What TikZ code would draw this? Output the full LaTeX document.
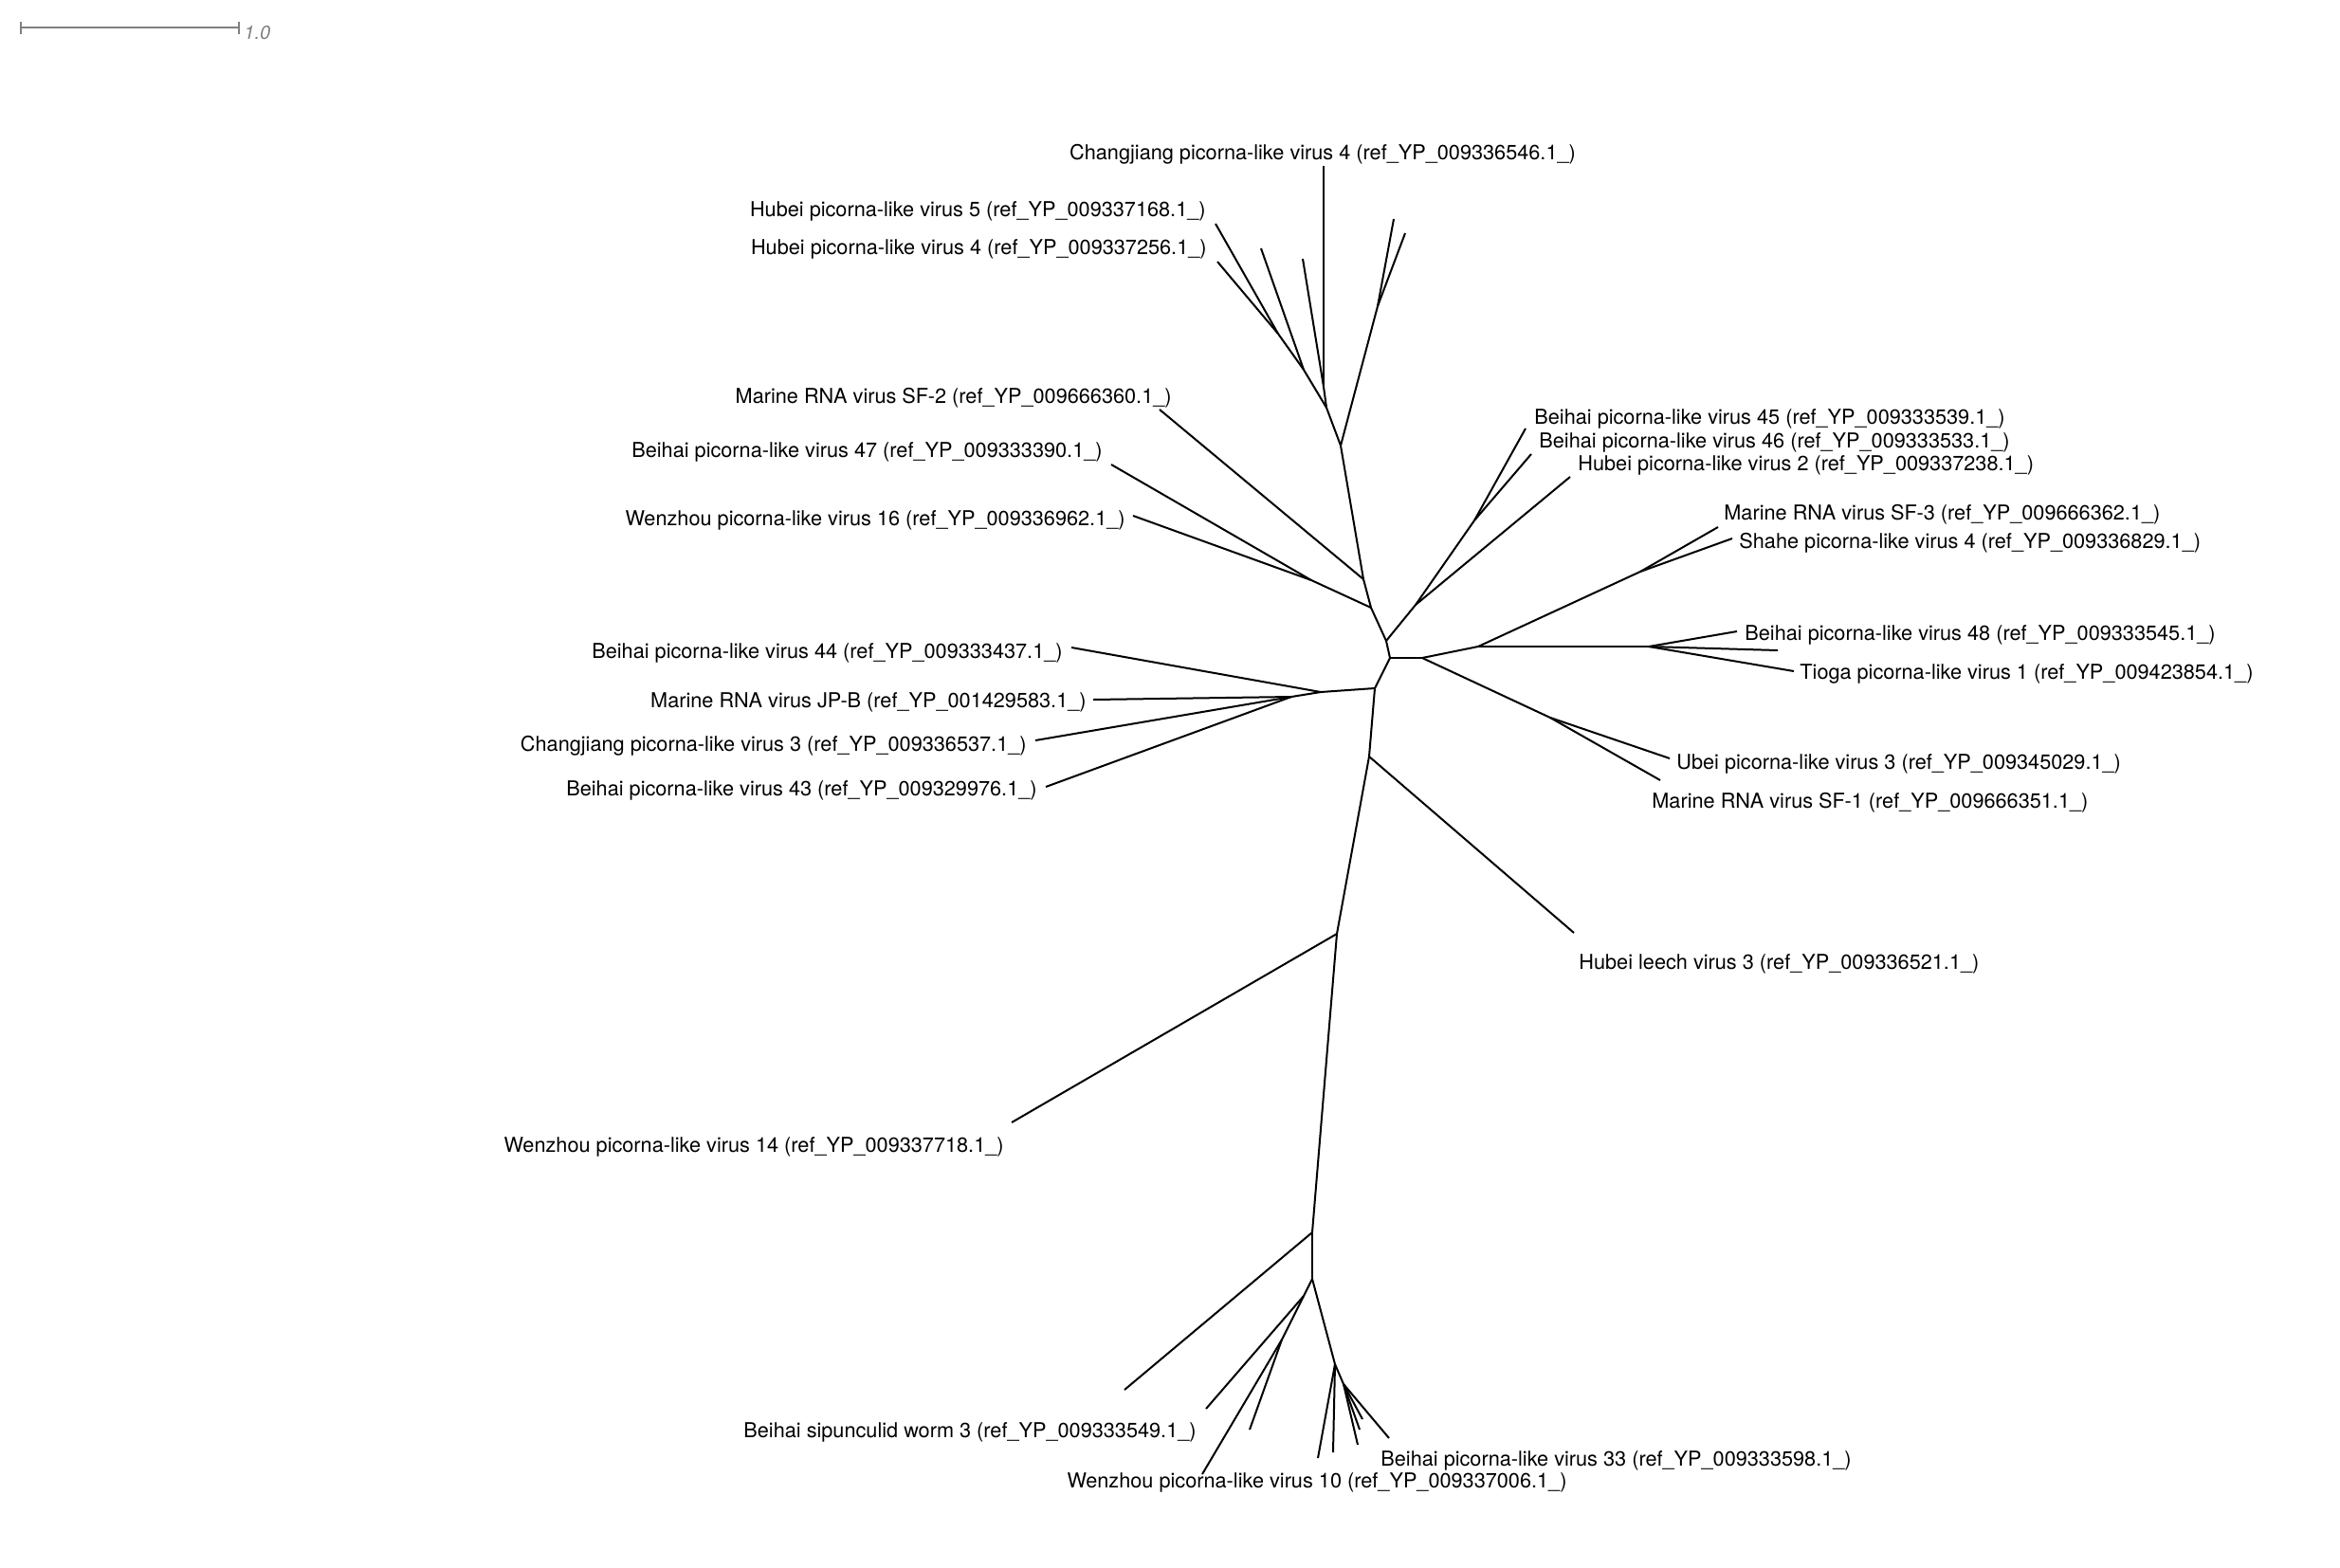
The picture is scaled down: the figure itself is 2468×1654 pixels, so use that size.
\documentclass[tikz,border=0pt]{standalone}
\usepackage{fontspec}
\setmainfont{TeX Gyre Heros}
\begin{document}
\begin{tikzpicture}[x=0.5pt,y=-0.5pt,
  br/.style={line width=1pt, line join=round},
  lab/.style={font=\fontsize{10.85}{13}\selectfont, inner sep=0pt, yshift=-1.5pt},
  scalebar/.style={line width=1pt, color=scalegray}]
\definecolor{scalegray}{HTML}{808080}
\useasboundingbox (0,0) rectangle (2468,1654);
% scale bar
\coordinate (s1) at (22,29); \coordinate (s2) at (252,29);
\coordinate (s1a) at (22,23); \coordinate (s1b) at (22,36);
\coordinate (s2a) at (252,23); \coordinate (s2b) at (252,36);
\draw[scalebar] (s1)--(s2); \draw[scalebar] (s1a)--(s1b); \draw[scalebar] (s2a)--(s2b);
\node[anchor=west, inner sep=0pt, font=\fontsize{10}{12}\selectfont\itshape, text=scalegray] (scl) at (257,35) {1.0};
% internal nodes
\coordinate (A) at (1466,694);
\coordinate (B) at (1462,676);
\coordinate (C) at (1446,641);
\coordinate (C0) at (1438,611);
\coordinate (N1) at (1414,470);
\coordinate (Q) at (1399,430);
\coordinate (P) at (1396,408);
\coordinate (L1) at (1375,390);
\coordinate (L2) at (1348,352);
\coordinate (R1) at (1453,323);
\coordinate (W) at (1383,612);
\coordinate (D) at (1450,726);
\coordinate (D2) at (1393,730);
\coordinate (D3) at (1362,735);
\coordinate (F) at (1444,798);
\coordinate (G) at (1410,985);
\coordinate (H) at (1384,1300);
\coordinate (I) at (1384,1349);
\coordinate (I1) at (1375,1367);
\coordinate (I2) at (1352,1413);
\coordinate (J) at (1408,1439);
\coordinate (K) at (1417,1460);
\coordinate (E) at (1500,694);
\coordinate (E2) at (1559,682);
\coordinate (U) at (1730,603);
\coordinate (E3) at (1739,682);
\coordinate (S) at (1635,757);
\coordinate (B1) at (1493,638);
\coordinate (B2) at (1555,549);
% tips
\coordinate (tCj4) at (1396,175);
\coordinate (tA) at (1374,273);
\coordinate (tB) at (1330,262);
\coordinate (tH5) at (1282,236);
\coordinate (tH4) at (1284,276);
\coordinate (tR1) at (1470,231);
\coordinate (tR2) at (1482,246);
\coordinate (tSF2) at (1223,432);
\coordinate (tB47) at (1172,490);
\coordinate (tW16) at (1195,544);
\coordinate (tB44) at (1130,683);
\coordinate (tJPB) at (1153,738);
\coordinate (tCj3) at (1092,781);
\coordinate (tB43) at (1103,830);
\coordinate (tW14) at (1067,1184);
\coordinate (tHu) at (1186,1466);
\coordinate (tA1) at (1272,1486);
\coordinate (tA2) at (1318,1508);
\coordinate (tA3) at (1268,1555);
\coordinate (tJ1) at (1390,1538);
\coordinate (tJ2) at (1406,1532);
\coordinate (tK1) at (1437,1497);
\coordinate (tK2) at (1434,1508);
\coordinate (tK3) at (1432,1524);
\coordinate (tK4) at (1465,1517);
\coordinate (tLeech) at (1660,984);
\coordinate (tSF1) at (1751,823);
\coordinate (tUbei) at (1761,800);
\coordinate (tTioga) at (1892,708);
\coordinate (tHor) at (1875,686);
\coordinate (tB48) at (1832,666);
\coordinate (tShahe) at (1827,568);
\coordinate (tSF3) at (1812,556);
\coordinate (tB45) at (1609,452);
\coordinate (tB46) at (1615,479);
\coordinate (tH2) at (1656,503);
% branches
\draw[br] (A)--(B); \draw[br] (B)--(C); \draw[br] (C)--(C0); \draw[br] (C0)--(N1);
\draw[br] (N1)--(Q); \draw[br] (Q)--(P); \draw[br] (P)--(tCj4); \draw[br] (P)--(tA);
\draw[br] (Q)--(L1); \draw[br] (L1)--(tB); \draw[br] (L1)--(L2);
\draw[br] (L2)--(tH5); \draw[br] (L2)--(tH4);
\draw[br] (N1)--(R1); \draw[br] (R1)--(tR1); \draw[br] (R1)--(tR2);
\draw[br] (C0)--(tSF2);
\draw[br] (C)--(W); \draw[br] (W)--(tB47); \draw[br] (W)--(tW16);
\draw[br] (B)--(B1); \draw[br] (B1)--(tH2); \draw[br] (B1)--(B2);
\draw[br] (B2)--(tB45); \draw[br] (B2)--(tB46);
\draw[br] (A)--(E); \draw[br] (E)--(E2); \draw[br] (E2)--(U);
\draw[br] (U)--(tSF3); \draw[br] (U)--(tShahe);
\draw[br] (E2)--(E3); \draw[br] (E3)--(tB48); \draw[br] (E3)--(tHor); \draw[br] (E3)--(tTioga);
\draw[br] (E)--(S); \draw[br] (S)--(tUbei); \draw[br] (S)--(tSF1);
\draw[br] (A)--(D); \draw[br] (D)--(D2); \draw[br] (D2)--(tB44); \draw[br] (D2)--(D3);
\draw[br] (D3)--(tJPB); \draw[br] (D3)--(tCj3); \draw[br] (D3)--(tB43);
\draw[br] (D)--(F); \draw[br] (F)--(tLeech); \draw[br] (F)--(G); \draw[br] (G)--(tW14);
\draw[br] (G)--(H); \draw[br] (H)--(tHu); \draw[br] (H)--(I);
\draw[br] (I)--(I1); \draw[br] (I1)--(tA1); \draw[br] (I1)--(I2);
\draw[br] (I2)--(tA2); \draw[br] (I2)--(tA3);
\draw[br] (I)--(J); \draw[br] (J)--(tJ1); \draw[br] (J)--(tJ2); \draw[br] (J)--(K);
\draw[br] (K)--(tK1); \draw[br] (K)--(tK2); \draw[br] (K)--(tK3); \draw[br] (K)--(tK4);
% labels
\node[lab, anchor=center] (lCj4) at (1395,160) {Changjiang picorna-like virus 4 (ref\_YP\_009336546.1\_)};
\node[lab, anchor=east] (lH5) at (1272,220) {Hubei picorna-like virus 5 (ref\_YP\_009337168.1\_)};
\node[lab, anchor=east] (lH4) at (1273,260) {Hubei picorna-like virus 4 (ref\_YP\_009337256.1\_)};
\node[lab, anchor=east] (lSF2) at (1236,417) {Marine RNA virus SF-2 (ref\_YP\_009666360.1\_)};
\node[lab, anchor=east] (lB47) at (1163,474) {Beihai picorna-like virus 47 (ref\_YP\_009333390.1\_)};
\node[lab, anchor=east] (lW16) at (1187,546) {Wenzhou picorna-like virus 16 (ref\_YP\_009336962.1\_)};
\node[lab, anchor=east] (lB44) at (1121,686) {Beihai picorna-like virus 44 (ref\_YP\_009333437.1\_)};
\node[lab, anchor=east] (lJPB) at (1146,738) {Marine RNA virus JP-B (ref\_YP\_001429583.1\_)};
\node[lab, anchor=east] (lCj3) at (1083,784) {Changjiang picorna-like virus 3 (ref\_YP\_009336537.1\_)};
\node[lab, anchor=east] (lB43) at (1094,831) {Beihai picorna-like virus 43 (ref\_YP\_009329976.1\_)};
\node[lab, anchor=east] (lW14) at (1059,1207) {Wenzhou picorna-like virus 14 (ref\_YP\_009337718.1\_)};
\node[lab, anchor=east] (lBsw) at (1262,1508) {Beihai sipunculid worm 3 (ref\_YP\_009333549.1\_)};
\node[lab, anchor=center] (lW10) at (1389,1561) {Wenzhou picorna-like virus 10 (ref\_YP\_009337006.1\_)};
\node[lab, anchor=west] (lB33) at (1456,1538) {Beihai picorna-like virus 33 (ref\_YP\_009333598.1\_)};
\node[lab, anchor=west] (lLeech) at (1665,1014) {Hubei leech virus 3 (ref\_YP\_009336521.1\_)};
\node[lab, anchor=west] (lSF1) at (1742,844) {Marine RNA virus SF-1 (ref\_YP\_009666351.1\_)};
\node[lab, anchor=west] (lUbei) at (1768,803) {Ubei picorna-like virus 3 (ref\_YP\_009345029.1\_)};
\node[lab, anchor=west] (lTioga) at (1898,708) {Tioga picorna-like virus 1 (ref\_YP\_009423854.1\_)};
\node[lab, anchor=west] (lB48) at (1840,667) {Beihai picorna-like virus 48 (ref\_YP\_009333545.1\_)};
\node[lab, anchor=west] (lShahe) at (1834,570) {Shahe picorna-like virus 4 (ref\_YP\_009336829.1\_)};
\node[lab, anchor=west] (lSF3) at (1818,540) {Marine RNA virus SF-3 (ref\_YP\_009666362.1\_)};
\node[lab, anchor=west] (lH2) at (1664,488) {Hubei picorna-like virus 2 (ref\_YP\_009337238.1\_)};
\node[lab, anchor=west] (lB46) at (1623,464) {Beihai picorna-like virus 46 (ref\_YP\_009333533.1\_)};
\node[lab, anchor=west] (lB45) at (1618,439) {Beihai picorna-like virus 45 (ref\_YP\_009333539.1\_)};
\end{tikzpicture}
\end{document}
